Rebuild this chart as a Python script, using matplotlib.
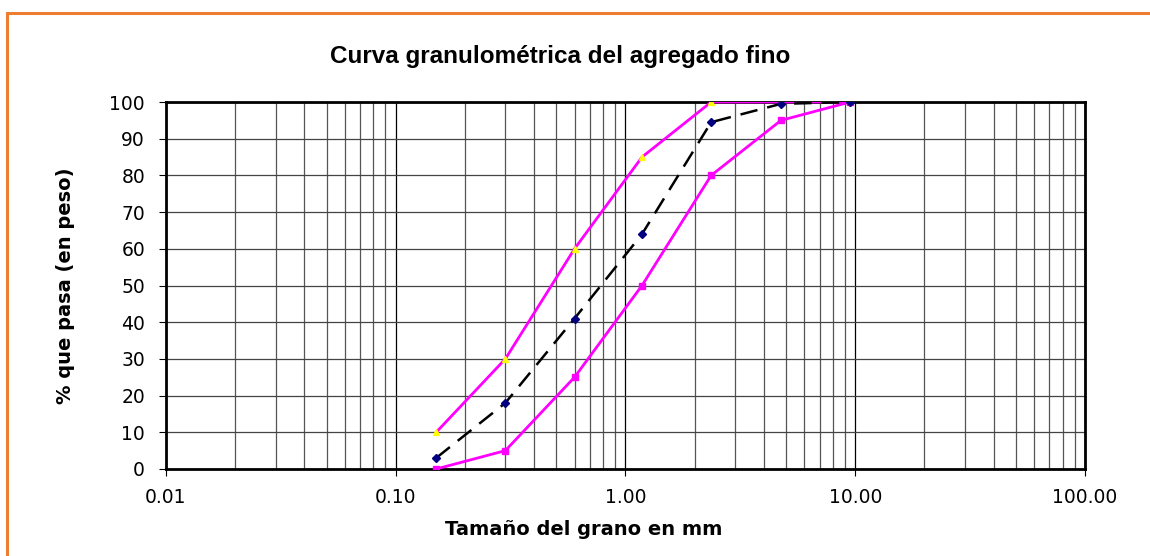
import matplotlib
matplotlib.use("Agg")
import matplotlib.pyplot as plt
from matplotlib.patches import Rectangle
from matplotlib.ticker import FixedLocator, FuncFormatter, LogLocator, NullFormatter

# Sieve openings (mm) and percent passing
sizes = [0.15, 0.30, 0.60, 1.18, 2.36, 4.75, 9.50]
upper_limit = [10, 30, 60, 85, 100, 100, 100]
lower_limit = [0, 5, 25, 50, 80, 95, 100]
sample = [3, 18, 41, 64, 94.5, 99.5, 100]

x_ticks = [0.01, 0.1, 1, 10, 100]
y_ticks = list(range(0, 101, 10))

fig = plt.figure(figsize=(11.5, 5.56), dpi=100)
ax = fig.add_axes([0.1443, 0.1565, 0.7992, 0.66])

# orange outer frame
fig.patches.append(Rectangle((7 / 1150, -0.1), 1.2, 1.1 - 13 / 556, transform=fig.transFigure,
                             fill=False, edgecolor="#ed7d31", linewidth=2.2))

ax.plot(sizes, upper_limit, color="#ff00ff", linewidth=2, marker="^", markersize=5,
        markerfacecolor="#ffff00", markeredgecolor="#ffff00", zorder=4)
ax.plot(sizes, lower_limit, color="#ff00ff", linewidth=2, marker="s", markersize=5,
        markerfacecolor="#ff00ff", markeredgecolor="#ff00ff", zorder=4)
ax.plot(sizes, sample, color="black", linewidth=1.8, linestyle=(0, (7, 4)), marker="D",
        markersize=4.5, markerfacecolor="#000080", markeredgecolor="#000080", zorder=5)

ax.set_xscale("log")
ax.set_xlim(0.01, 100)
ax.set_ylim(0, 100)
ax.xaxis.set_major_locator(FixedLocator(x_ticks))
ax.xaxis.set_major_formatter(FuncFormatter(lambda v, _: f"{v:.2f}"))
ax.xaxis.set_minor_locator(LogLocator(base=10, subs=range(2, 10)))
ax.xaxis.set_minor_formatter(NullFormatter())
ax.set_yticks(y_ticks)

ax.grid(True, which="major", axis="x", color="black", linewidth=0.9)
ax.grid(True, which="minor", axis="x", color="#555555", linewidth=0.9)
ax.grid(True, which="major", axis="y", color="#444444", linewidth=0.9)
ax.tick_params(axis="x", which="minor", length=0)
ax.tick_params(axis="both", which="major", length=5, width=0.8, labelsize=13.5,
               direction="out", colors="black")
ax.tick_params(axis="x", which="major", pad=9)
ax.tick_params(axis="y", which="major", pad=10)
for side in ("top", "bottom", "right", "left"):
    ax.spines[side].set_linewidth(2)

for lab in ax.get_xticklabels() + ax.get_yticklabels():
    lab.set_family("DejaVu Sans")

ax.set_xlabel("Tamaño del grano en mm", fontsize=14, fontweight="bold",
              family="DejaVu Sans")
ax.set_ylabel("% que pasa (en peso)", fontsize=14, fontweight="bold",
              family="DejaVu Sans")
ax.xaxis.set_label_coords(0.455, -0.139)
ax.yaxis.set_label_coords(-0.099, 0.5)
fig.text(0.487, 1 - 56 / 556, "Curva granulométrica del agregado fino", ha="center",
         va="center", fontsize=17.5, fontweight="bold", family="Liberation Sans")

fig.savefig("out.png", dpi=100)
